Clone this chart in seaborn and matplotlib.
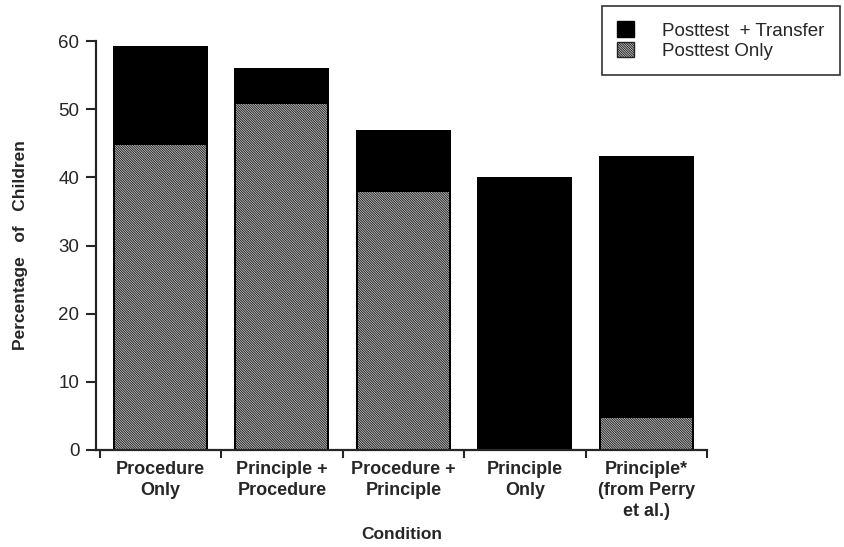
import matplotlib
matplotlib.use("Agg")
import matplotlib.pyplot as plt
from matplotlib.patches import Patch
import seaborn as sns
import pandas as pd

categories = ["Procedure\nOnly", "Principle +\nProcedure", "Procedure +\nPrinciple",
              "Principle\nOnly", "Principle*\n(from Perry\net al.)"]
posttest_only = [44.7, 50.8, 37.8, 0.0, 4.7]
posttest_transfer = [14.5, 5.2, 9.2, 40.0, 38.5]
totals = [a + b for a, b in zip(posttest_only, posttest_transfer)]
yticks = [0, 10, 20, 30, 40, 50, 60]

sns.set_style("ticks")
plt.rcParams['font.family'] = ['Liberation Sans', 'DejaVu Sans']
plt.rcParams['hatch.linewidth'] = 0.7

HATCH = "\\" * 14

df = pd.DataFrame({"Condition": categories, "total": totals, "only": posttest_only})

fig = plt.figure(figsize=(8.45, 5.47), dpi=100)
ax = fig.add_axes([96/845, 1-450/547, (707-96)/845, (450-41)/547])

sns.barplot(data=df, x="Condition", y="total", color="black", width=0.78,
            saturation=1, ax=ax, edgecolor="black", linewidth=0)
sns.barplot(data=df, x="Condition", y="only", color="#d8d8d8", width=0.75,
            saturation=1, ax=ax, edgecolor="#222222", linewidth=0, hatch=HATCH)

ax.set_xlim(-0.53, 4.48)
ax.set_ylim(0, 60)
ax.set_yticks(yticks)
ax.set_yticklabels([str(v) for v in yticks], fontsize=13.5)
ax.set_xticks([-0.5, 0.5, 1.5, 2.5, 3.5, 4.5])
ax.set_xticklabels([])
ax.set_xticks(range(len(categories)), minor=True)
ax.set_xticklabels(categories, minor=True, fontsize=13, fontweight="bold",
                   linespacing=1.3)
ax.tick_params(axis='x', which='minor', length=0, pad=8)
ax.tick_params(axis='x', which='major', length=6, width=1.5, direction='out')
ax.tick_params(axis='y', length=7, width=1.5, direction='out', pad=5)
for s in ["top", "right"]:
    ax.spines[s].set_visible(False)
for s in ["left", "bottom"]:
    ax.spines[s].set_linewidth(1.6)

ax.set_xlabel("Condition", fontsize=12.5, fontweight="bold", labelpad=5)
ax.set_ylabel("Percentage   of   Children", fontsize=12.5, fontweight="bold", labelpad=22)

handles = [Patch(facecolor="black", edgecolor="black"),
           Patch(facecolor="#d8d8d8", edgecolor="#222222", hatch=HATCH)]
leg = fig.legend(handles, ["Posttest  + Transfer", "Posttest Only"],
                 loc="upper right", bbox_to_anchor=(0.998, 0.995), fontsize=13.5,
                 frameon=True, fancybox=False, edgecolor="black", borderpad=0.8,
                 handlelength=0.9, handleheight=0.9, handletextpad=1.5, labelspacing=0.1,
                 borderaxespad=0.2)
leg.get_frame().set_linewidth(1.2)

fig.savefig("out.png", dpi=100)
